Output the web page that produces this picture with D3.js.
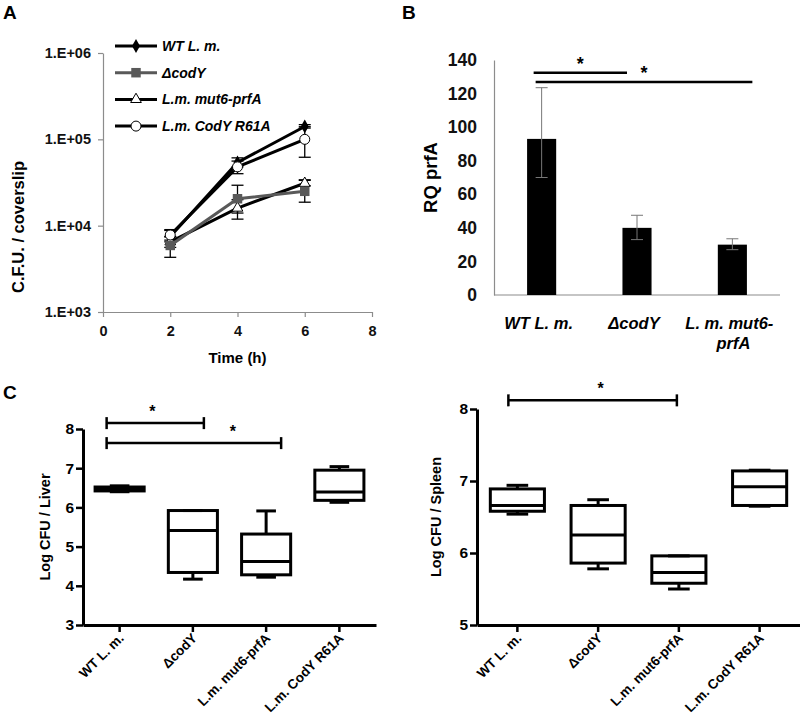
<!DOCTYPE html>
<html>
<head>
<meta charset="utf-8">
<script src="https://cdn.jsdelivr.net/npm/d3@7"></script>
<style>
  html, body { margin: 0; padding: 0; background: #fff; }
  svg { display: block; font-family: "Liberation Sans", Arial, sans-serif; }
  svg text { font-weight: bold; font-family: "Liberation Sans", Arial, sans-serif; }
</style>
</head>
<body>
<svg id="chart" width="800" height="724"></svg>
<script>
// ---------------- Panel A data ----------------
const timesA = [2, 4, 6];
const seriesA = ["WT L. m.", "\u0394codY", "L.m. mut6-prfA", "L.m. CodY R61A"];
const wtA = [7500, 54000, 141000];
const wtA_lo = [6500, 48000, 135000];
const wtA_hi = [9000, 61000, 148000];
const codyA = [5900, 20500, 25000];
const codyA_lo = [4300, 14000, 18700];
const codyA_hi = [7400, 29400, 33500];
const mutA = [6500, 16000, 31000];
const mutA_lo = [5600, 11900, 29000];
const mutA_hi = [7500, 20000, 34000];
const r61aA = [7800, 48000, 100000];
const r61aA_lo = [6800, 40000, 62000];
const r61aA_hi = [8800, 56000, 140000];
const yTicksA = [1e3, 1e4, 1e5, 1e6];
const yTickLabelsA = ["1.E+03", "1.E+04", "1.E+05", "1.E+06"];
const xTicksA = [0, 2, 4, 6, 8];

// ---------------- Panel B data ----------------
const catsB = ["WT L. m.", "\u0394codY", "L. m. mut6-prfA"];
const valsB = [93, 40, 30];
const errLoB = [70, 33, 27];
const errHiB = [123.5, 47.5, 33.5];
const yTicksB = [0, 20, 40, 60, 80, 100, 120, 140];
const sigB = [[0, 1, 132.4], [0, 2, 126.9]];

// ---------------- Panel C data ----------------
const catsC = ["WT L. m.", "\u0394codY", "L.m. mut6-prfA", "L.m. CodY R61A"];
// [min, q1, median, q3, max]
const liverMin = [6.40, 4.17, 4.22, 6.13];
const liverQ1 = [6.42, 4.34, 4.28, 6.18];
const liverMed = [6.46, 5.41, 4.62, 6.39];
const liverQ3 = [6.52, 5.92, 5.32, 6.95];
const liverMax = [6.55, 5.92, 5.91, 7.04];
const spleenMin = [6.54, 5.78, 5.50, 6.65];
const spleenQ1 = [6.58, 5.86, 5.58, 6.66];
const spleenMed = [6.66, 6.25, 5.73, 6.92];
const spleenQ3 = [6.89, 6.66, 5.96, 7.14];
const spleenMax = [6.94, 6.74, 5.96, 7.15];
const yTicksLiver = [3, 4, 5, 6, 7, 8];
const yTicksSpleen = [5, 6, 7, 8];
const sigLiver = [[0, 1, 8.15], [0, 2, 7.64]];
const sigSpleen = [[0, 2, 8.12]];

const svg = d3.select("#chart");
const B = s => s.attr("font-weight", "bold").attr("font-family", "Liberation Sans, Arial, sans-serif");

// panel letters
[["A", 3, 19], ["B", 402, 19], ["C", 3, 399]].forEach(([t, x, y]) => {
  B(svg.append("text").attr("x", x).attr("y", y).attr("font-size", 19).text(t));
});

// ================= Panel A =================
{
  const x = d3.scaleLinear().domain([0, 8]).range([103, 372]);
  const y = d3.scaleLog().domain([1e3, 1e6]).range([312, 53]);
  const g = svg.append("g");

  const yAx = g.append("g").attr("transform", `translate(${x(0)},0)`)
    .call(d3.axisLeft(y).tickValues(yTicksA).tickFormat((d, i) => yTickLabelsA[i]).tickSize(5).tickSizeOuter(0));
  const xAx = g.append("g").attr("transform", `translate(0,${y(1e3)})`)
    .call(d3.axisBottom(x).tickValues(xTicksA).tickSize(5).tickSizeOuter(0));
  [yAx, xAx].forEach(a => {
    a.select(".domain").attr("stroke", "#8c8c8c").attr("stroke-width", 1.2);
    a.selectAll(".tick line").attr("stroke", "#8c8c8c").attr("stroke-width", 1.2);
    B(a.selectAll("text").attr("font-size", 14.5).attr("fill", "#111"));
  });
  yAx.selectAll("text").attr("dx", -4);
  xAx.selectAll("text").attr("dy", "1.1em");

  B(g.append("text").attr("x", (x(0) + x(8)) / 2).attr("y", 363).attr("text-anchor", "middle")
    .attr("font-size", 15).text("Time (h)"));
  B(g.append("text").attr("transform", `translate(24,227) rotate(-90)`)
    .attr("text-anchor", "middle").attr("font-size", 16.5).text("C.F.U. / coverslip"));

  const data = [
    { v: wtA, lo: wtA_lo, hi: wtA_hi, color: "#000", marker: "diamond" },
    { v: mutA, lo: mutA_lo, hi: mutA_hi, color: "#000", marker: "triangle" },
    { v: codyA, lo: codyA_lo, hi: codyA_hi, color: "#595959", marker: "square" },
    { v: r61aA, lo: r61aA_lo, hi: r61aA_hi, color: "#000", marker: "circle" },
  ];
  const line = d3.line().x((d, i) => x(timesA[i])).y(d => y(d));
  function drawMarker(sel, type, color) {
    if (type === "diamond") sel.append("path").attr("d", d3.symbol(d3.symbolDiamond, 55)()).attr("fill", "#000");
    else if (type === "square") sel.append("path").attr("d", d3.symbol(d3.symbolSquare, 90)()).attr("fill", color);
    else if (type === "triangle") sel.append("path").attr("d", d3.symbol(d3.symbolTriangle, 50)()).attr("fill", "#fff").attr("stroke", "#000").attr("stroke-width", 1);
    else sel.append("circle").attr("r", 5).attr("fill", "#fff").attr("stroke", "#000").attr("stroke-width", 1);
  }
  data.forEach(s => {
    s.v.forEach((v, i) => {
      const cx = x(timesA[i]);
      g.append("line").attr("x1", cx).attr("x2", cx).attr("y1", y(s.lo[i])).attr("y2", y(s.hi[i])).attr("stroke", "#000").attr("stroke-width", 1.3);
      [s.lo[i], s.hi[i]].forEach(e => g.append("line").attr("x1", cx - 6).attr("x2", cx + 6).attr("y1", y(e)).attr("y2", y(e)).attr("stroke", "#000").attr("stroke-width", 1.3));
    });
  });
  data.forEach(s => {
    g.append("path").attr("d", line(s.v)).attr("fill", "none").attr("stroke", s.color).attr("stroke-width", 3);
  });
  data.forEach(s => {
    s.v.forEach((v, i) => {
      const m = g.append("g").attr("transform", `translate(${x(timesA[i])},${y(v)})`);
      drawMarker(m, s.marker, s.color);
    });
  });

  // legend
  const legendOrder = [
    { name: seriesA[0], color: "#000", marker: "diamond" },
    { name: seriesA[1], color: "#595959", marker: "square" },
    { name: seriesA[2], color: "#000", marker: "triangle" },
    { name: seriesA[3], color: "#000", marker: "circle" },
  ];
  legendOrder.forEach((s, i) => {
    const ly = 46 + i * 26.7;
    const lg = g.append("g").attr("transform", `translate(0,${ly})`);
    lg.append("line").attr("x1", 115).attr("x2", 157).attr("y1", 0).attr("y2", 0).attr("stroke", s.color).attr("stroke-width", 3);
    const m = lg.append("g").attr("transform", "translate(136,0)");
    drawMarker(m, s.marker, s.color);
    B(lg.append("text").attr("x", 162).attr("y", 5).attr("font-size", 14).attr("font-style", "italic").text(s.name));
  });
}

// ================= Panel B =================
{
  const x = d3.scaleBand().domain(catsB).range([494, 780]).paddingInner(0.695).paddingOuter(0.347);
  const y = d3.scaleLinear().domain([0, 140]).range([295, 60]);
  const g = svg.append("g");

  const yAx = g.append("g").attr("transform", "translate(494,0)")
    .call(d3.axisLeft(y).tickValues(yTicksB).tickSize(0).tickPadding(17));
  yAx.select(".domain").attr("stroke", "#8c8c8c").attr("stroke-width", 1.2);
  B(yAx.selectAll("text").attr("font-size", 17.5).attr("fill", "#111"));
  g.append("line").attr("x1", 494).attr("x2", 780).attr("y1", y(0)).attr("y2", y(0)).attr("stroke", "#8c8c8c").attr("stroke-width", 1.2);

  g.selectAll("rect.bar").data(valsB).join("rect")
    .attr("x", (d, i) => x(catsB[i])).attr("width", x.bandwidth())
    .attr("y", d => y(d)).attr("height", d => y(0) - y(d)).attr("fill", "#000");
  valsB.forEach((v, i) => {
    const cx = x(catsB[i]) + x.bandwidth() / 2;
    g.append("line").attr("x1", cx).attr("x2", cx).attr("y1", y(errLoB[i])).attr("y2", y(errHiB[i])).attr("stroke", "#777").attr("stroke-width", 1);
    [errLoB[i], errHiB[i]].forEach(e => g.append("line").attr("x1", cx - 6).attr("x2", cx + 6).attr("y1", y(e)).attr("y2", y(e)).attr("stroke", "#777").attr("stroke-width", 1));
  });

  const ctr = c => x(c) + x.bandwidth() / 2;
  const offs = [[-8, -10], [-6, 20]];
  sigB.forEach(([a, b, v], k) => {
    const x1 = ctr(catsB[a]) + offs[k][0], x2 = ctr(catsB[b]) + offs[k][1];
    g.append("line").attr("x1", x1).attr("x2", x2).attr("y1", y(v)).attr("y2", y(v)).attr("stroke", "#000").attr("stroke-width", 2.5);
    B(g.append("text").attr("x", (x1 + x2) / 2).attr("y", y(v) - 3).attr("text-anchor", "middle").attr("font-size", 18).text("*"));
  });

  const lbl = [["WT L. m."], ["\u0394codY"], ["L. m. mut6-", "prfA"]];
  lbl.forEach((lines, i) => {
    lines.forEach((t, j) => {
      B(g.append("text").attr("x", ctr(catsB[i]) - 3 + j * 4).attr("y", 329 + j * 20).attr("text-anchor", "middle")
        .attr("font-size", 16.5).attr("font-style", "italic").text(t));
    });
  });
  B(g.append("text").attr("transform", `translate(437,${(y(0) + y(140)) / 2}) rotate(-90)`)
    .attr("text-anchor", "middle").attr("font-size", 18.5).text("RQ prfA"));
}

// ================= Panel C =================
function boxPanel(opt) {
  const x = d3.scaleBand().domain(catsC).range(opt.xr).paddingInner(0.33).paddingOuter(0.165);
  const y = d3.scaleLinear().domain(opt.yd).range(opt.yr);
  const g = svg.append("g");
  const yAx = g.append("g").attr("transform", `translate(${opt.xr[0]},0)`)
    .call(d3.axisLeft(y).tickValues(opt.ticks).tickFormat(d3.format("d")).tickSize(7).tickSizeOuter(0).tickPadding(2));
  const xAx = g.append("g").attr("transform", `translate(0,${opt.yr[0]})`)
    .call(d3.axisBottom(x).tickSize(7).tickSizeOuter(0).tickFormat(""));
  [yAx, xAx].forEach(a => {
    a.select(".domain").attr("stroke", "#000").attr("stroke-width", 3);
    a.selectAll(".tick line").attr("stroke", "#000").attr("stroke-width", 2.5);
  });
  B(yAx.selectAll("text").attr("font-size", 15.5).attr("fill", "#000"));

  const bw = x.bandwidth();
  catsC.forEach((c, i) => {
    const cx = x(c) + bw / 2;
    const ln = (x1, x2, y1, y2) => g.append("line").attr("x1", x1).attr("x2", x2).attr("y1", y1).attr("y2", y2)
      .attr("stroke", "#000").attr("stroke-width", 3);
    ln(cx, cx, y(opt.max[i]), y(opt.q3[i]));
    ln(cx, cx, y(opt.q1[i]), y(opt.min[i]));
    ln(cx - bw * 0.2, cx + bw * 0.2, y(opt.max[i]), y(opt.max[i]));
    ln(cx - bw * 0.2, cx + bw * 0.2, y(opt.min[i]), y(opt.min[i]));
    g.append("rect").attr("x", x(c)).attr("width", bw).attr("y", y(opt.q3[i])).attr("height", y(opt.q1[i]) - y(opt.q3[i]))
      .attr("fill", "none").attr("stroke", "#000").attr("stroke-width", 3);
    ln(x(c), x(c) + bw, y(opt.med[i]), y(opt.med[i]));
    B(g.append("text").attr("transform", `translate(${cx + 5},${opt.yr[0] + 14}) rotate(-45)`)
      .attr("text-anchor", "end").attr("font-size", 13.5).text(c));
  });
  opt.sig.forEach(([a, b, v], k) => {
    const x1 = x(catsC[a]) + bw / 2 + opt.offs[k][0], x2 = x(catsC[b]) + bw / 2 + opt.offs[k][1];
    g.append("line").attr("x1", x1).attr("x2", x2).attr("y1", y(v)).attr("y2", y(v)).attr("stroke", "#000").attr("stroke-width", 2.5);
    [x1, x2].forEach(xx => g.append("line").attr("x1", xx).attr("x2", xx).attr("y1", y(v) - 6).attr("y2", y(v) + 6).attr("stroke", "#000").attr("stroke-width", 2.5));
    g.append("text").attr("x", (x1 + x2) / 2 + opt.starDx[k]).attr("y", y(v) - 6).attr("text-anchor", "middle")
      .attr("font-size", 16).attr("font-family", "Liberation Sans, Arial").text("*");
  });
  B(g.append("text").attr("transform", `translate(${opt.labelX},${opt.labelY}) rotate(-90)`)
    .attr("text-anchor", "middle").attr("font-size", 14.5).text(opt.label));
}

boxPanel({
  xr: [83, 376], yd: [3, 8], yr: [625, 429], ticks: yTicksLiver,
  min: liverMin, q1: liverQ1, med: liverMed, q3: liverQ3, max: liverMax,
  sig: sigLiver, offs: [[-13, 11], [-13, 15]], starDx: [-3, 39],
  label: "Log CFU / Liver", labelX: 50, labelY: 527
});
boxPanel({
  xr: [477, 800], yd: [5, 8], yr: [625, 409], ticks: yTicksSpleen,
  min: spleenMin, q1: spleenQ1, med: spleenMed, q3: spleenQ3, max: spleenMax,
  sig: sigSpleen, offs: [[-9, -2]], starDx: [8],
  label: "Log CFU / Spleen", labelX: 441, labelY: 517
});
</script>
</body>
</html>
